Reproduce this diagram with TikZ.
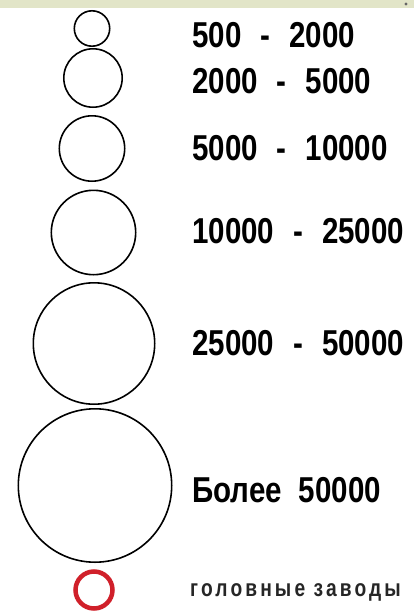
\documentclass[tikz,border=0pt]{standalone}
\usepackage{fontspec}
\setmainfont{Liberation Sans}
\newfontfamily\condfont[FakeStretch=0.82]{Liberation Sans}
\newfontfamily\smallfont[FakeStretch=0.8,LetterSpace=13]{Liberation Sans}
\definecolor{band}{HTML}{E2E5C8}
\definecolor{ringred}{HTML}{D0202A}
\begin{document}
\begin{tikzpicture}[x=1pt,y=-1pt,
  ring/.style={circle,draw=black,line width=1.6pt,inner sep=0pt,minimum size=#1},
  lbl/.style={anchor=base west,inner sep=0pt,font=\condfont\bfseries\fontsize{36}{36}\selectfont},
  note/.style={anchor=base west,inner sep=0pt,font=\smallfont\bfseries\fontsize{24}{24}\selectfont,text=black!85}]
\useasboundingbox (0,0) rectangle (414,613);
\clip (0,0) rectangle (414,613);
\fill[white] (0,0) rectangle (414,613);
\fill[band] (0,0) rectangle (414,8);
\fill[black!60] (406,4) circle (1.6);
% circles (diameter = 2r - line width)
\node[ring=35.4pt] (c1) at (92,28.5) {};
\node[ring=58.4pt] (c2) at (93,78) {};
\node[ring=65.4pt] (c3) at (92,148.5) {};
\node[ring=84.4pt] (c4) at (93.5,232.5) {};
\node[ring=121.4pt] (c5) at (94,343.5) {};
\node[ring=153.4pt] (c6) at (95,485.5) {};
\node[circle,draw=ringred,line width=4.5pt,inner sep=0pt,minimum size=37pt] (r1) at (94,590) {};
% labels
\node[lbl] (t1) at (192,47) {500\hspace{19pt}-\hspace{19pt}2000};
\node[lbl] (t2) at (192,93) {2000\hspace{19pt}-\hspace{19pt}5000};
\node[lbl] (t3) at (192,160) {5000\hspace{19pt}-\hspace{19pt}10000};
\node[lbl] (t4) at (192,243) {10000\hspace{19pt}-\hspace{19pt}25000};
\node[lbl] (t5) at (192,355) {25000\hspace{19pt}-\hspace{19pt}50000};
\node[lbl] (t6) at (192,502) {Более\hspace{17pt}50000};
\node[note] (t7) at (190,596) {головные заводы};
\end{tikzpicture}
\end{document}
